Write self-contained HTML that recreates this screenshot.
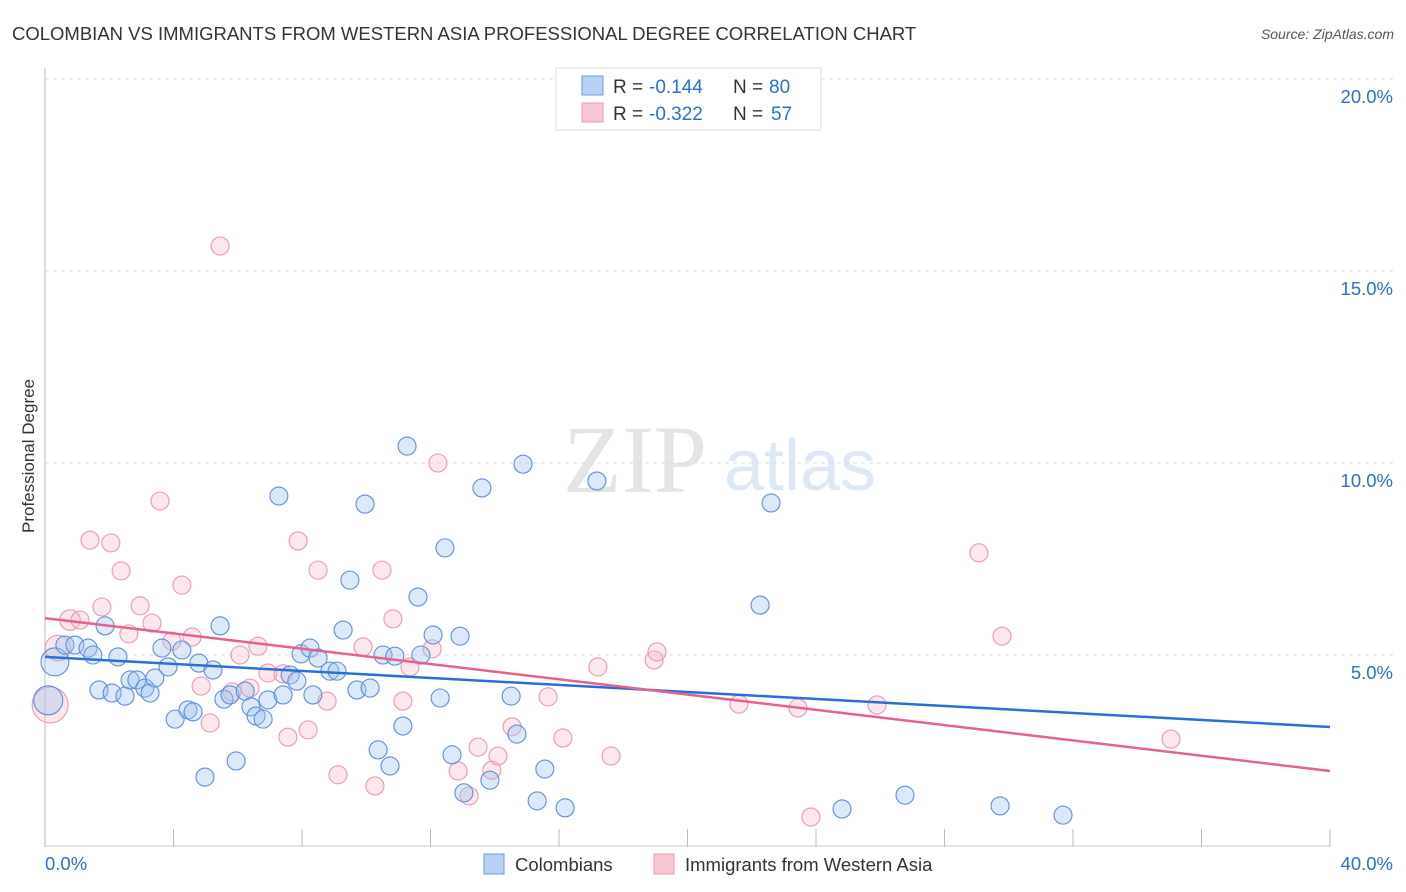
<!DOCTYPE html>
<html><head><meta charset="utf-8"><style>
body{margin:0;background:#fff;font-family:"Liberation Sans",sans-serif;}
#wrap{position:relative;width:1406px;height:892px;overflow:hidden;}
</style></head><body>
<div id="wrap">
<svg id="svg" width="1406" height="892" xmlns="http://www.w3.org/2000/svg">
<text x="12" y="40" font-size="18.5" fill="#333">COLOMBIAN VS IMMIGRANTS FROM WESTERN ASIA PROFESSIONAL DEGREE CORRELATION CHART</text>
<text x="1394" y="39" font-size="14" fill="#555" font-style="italic" text-anchor="end">Source: ZipAtlas.com</text>
<text x="34" y="456" font-size="17" fill="#333" text-anchor="middle" transform="rotate(-90 34 456)">Professional Degree</text>
<g>
<text x="635" y="492" font-size="96" fill="#e4e4e4" font-family="Liberation Serif,serif" text-anchor="middle">ZIP</text>
<text x="800" y="490" font-size="72" fill="#dde8f6" text-anchor="middle">atlas</text>
</g>
<g id="grid"></g>
<g id="pts"></g>
<g id="lines"></g>
<g>
<rect x="556" y="68" width="265" height="62" fill="#fff" stroke="#ddd"/>
<rect x="582" y="76" width="21" height="19" fill="#b7d0f4" stroke="#6b9be0"/>
<rect x="582" y="103" width="21" height="19" fill="#f9c6d4" stroke="#eb98b0"/>
<g font-size="19" fill="#333">
<text x="613" y="93">R =</text><text x="649" y="93" fill="#2a6fd6">-0.144</text><text x="733" y="93">N =</text><text x="769" y="93" fill="#2a6fd6">80</text></g>
<g font-size="19" fill="#333">
<text x="613" y="120">R =</text><text x="649" y="120" fill="#2a6fd6">-0.322</text><text x="733" y="120">N =</text><text x="771" y="120" fill="#2a6fd6">57</text></g>
</g>
<g>
<rect x="484" y="854" width="20" height="20" fill="#b7d0f4" stroke="#6b9be0"/>
<text x="515" y="871" font-size="18.5" fill="#333">Colombians</text>
<rect x="654" y="854" width="20" height="20" fill="#f9c6d4" stroke="#eb98b0"/>
<text x="685" y="871" font-size="18.5" fill="#333">Immigrants from Western Asia</text>
</g>
</svg>
</div>
<script>
const yTicks=[5,10,15,20];
const xTickLabels=["0.0%","40.0%"];
const blueX=[0.31,0.62,0.93,1.34,1.49,1.87,2.27,1.68,2.09,2.49,2.65,2.86,3.11,3.27,3.42,3.64,3.83,4.05,4.26,4.45,4.61,4.79,4.98,5.23,5.45,5.57,5.76,5.95,6.23,6.41,6.57,6.79,6.94,7.28,7.41,7.63,7.84,7.97,8.25,8.34,8.50,8.87,9.09,9.28,9.49,9.71,9.96,10.12,10.37,10.52,10.74,10.89,11.14,11.27,11.61,11.70,12.08,12.30,12.45,12.67,12.92,13.04,13.60,13.85,14.51,14.69,14.88,15.32,15.56,16.19,17.18,22.26,22.60,24.81,26.77,29.73,31.69,0.1];
const blueY=[4.82,5.26,5.26,5.18,5.0,5.76,4.95,4.09,4.01,3.93,4.35,4.35,4.14,4.01,4.40,5.18,4.69,3.33,5.13,3.57,3.52,4.79,1.82,4.61,5.76,3.85,3.96,2.24,4.06,3.65,3.41,3.33,3.83,9.14,3.96,4.48,4.32,5.03,5.18,3.96,4.92,4.58,4.58,5.65,6.95,4.09,8.93,4.14,2.53,5.0,2.11,4.97,3.15,10.44,6.51,5.0,5.52,3.88,7.79,2.40,5.49,1.41,9.35,1.74,3.93,2.94,9.97,1.20,2.03,1.02,9.53,6.30,8.96,0.99,1.35,1.07,0.83,3.82];
const blueW=[2.4,1,1,1,1,1,1,1,1,1,1,1,1,1,1,1,1,1,1,1,1,1,1,1,1,1,1,1,1,1,1,1,1,1,1,1,1,1,1,1,1,1,1,1,1,1,1,1,1,1,1,1,1,1,1,1,1,1,1,1,1,1,1,1,1,1,1,1,1,1,1,1,1,1,1,1,1,2.6];
const pinkX=[0.16,0.40,0.78,1.09,1.40,1.77,2.05,2.37,2.61,2.96,3.33,3.58,3.95,4.26,4.58,4.86,5.14,5.45,5.82,6.07,6.38,6.63,6.94,7.41,7.56,7.88,8.19,8.50,8.78,9.12,9.90,10.27,10.49,10.83,11.14,11.36,12.05,12.23,12.86,13.20,13.48,13.91,14.10,14.54,15.66,16.12,17.21,17.62,18.96,19.05,21.60,23.44,23.84,25.90,29.07,29.79,35.05];
const pinkY=[3.70,5.18,5.91,5.91,7.99,6.25,7.92,7.19,5.55,6.28,5.83,9.01,5.36,6.82,5.47,4.19,3.23,15.65,4.04,5.0,4.14,5.23,4.53,4.51,2.86,7.97,3.05,7.21,3.80,1.88,5.21,1.59,7.21,5.94,3.80,4.69,5.16,10.0,1.98,1.33,2.60,2.0,2.37,3.13,3.91,2.84,4.69,2.37,4.87,5.08,3.72,3.62,0.78,3.70,7.66,5.49,2.81];
const pinkW=[4,2,1.3,1,1,1,1,1,1,1,1,1,1,1,1,1,1,1,1,1,1,1,1,1,1,1,1,1,1,1,1,1,1,1,1,1,1,1,1,1,1,1,1,1,1,1,1,1,1,1,1,1,1,1,1,1,1];
const blueTrend=[4.95,3.125];
const pinkTrend=[5.96,1.98];
const NS="http://www.w3.org/2000/svg";
const X0=45,X1=1330,Y0=847,PX5=192;
const sx=v=>X0+(v/40)*(X1-X0);
const sy=v=>Y0-(v/5)*PX5;
function mk(tag,attrs,parent){const e=document.createElementNS(NS,tag);for(const k in attrs)e.setAttribute(k,attrs[k]);parent.appendChild(e);return e;}
const grid=document.getElementById('grid');
yTicks.forEach(t=>{
 const l=mk('line',{x1:X0,x2:1393,y1:sy(t),y2:sy(t),stroke:'#ddd','stroke-dasharray':'4,4'},grid);
 
 
 const tx=mk('text',{x:1393,y:sy(t)+24,'font-size':18.5,fill:'#2a6fd6','text-anchor':'end'},grid);
 tx.textContent=t.toFixed(1)+'%';
 
 
});
const ax=mk('line',{x1:X0,x2:X0,y1:68,y2:Y0,stroke:'#bbb'},grid);


const bx=mk('line',{x1:X0,x2:X1,y1:Y0-1,y2:Y0-1,stroke:'#ccc'},grid);


for(let i=0;i<=10;i++){
 const tk=mk('line',{x1:sx(i*4),x2:sx(i*4),y1:829,y2:Y0,stroke:'#bbb'},grid);
 
 
}
[[0,'start',45],[40,'end',1393]].forEach((d,i)=>{
 const t=mk('text',{x:d[2],y:870,'font-size':18.5,fill:'#2a6fd6','text-anchor':d[1]},grid);
 t.textContent=xTickLabels[i];
 
 
});
const pts=document.getElementById('pts');
function draw(xs,ys,ws,fill,stroke,name){
 xs.forEach((x,i)=>{
  const c=mk('circle',{cx:sx(x),cy:sy(ys[i]),r:9*Math.sqrt(ws[i]||1),fill:fill,stroke:stroke,'stroke-width':1.1},pts);
  
  
 });
}
draw(pinkX,pinkY,pinkW,'rgba(246,180,200,0.32)','#eb98b0','point-western-asia');
draw(blueX,blueY,blueW,'rgba(160,196,240,0.38)','#5b8fd9','point-colombian');
const lines=document.getElementById('lines');
const lb=mk('line',{x1:sx(0),y1:sy(blueTrend[0]),x2:sx(40),y2:sy(blueTrend[1]),stroke:'#2a6fd6','stroke-width':2.5},lines);


const lp=mk('line',{x1:sx(0),y1:sy(pinkTrend[0]),x2:sx(40),y2:sy(pinkTrend[1]),stroke:'#e8608e','stroke-width':2.5},lines);


</script>
</body></html>
